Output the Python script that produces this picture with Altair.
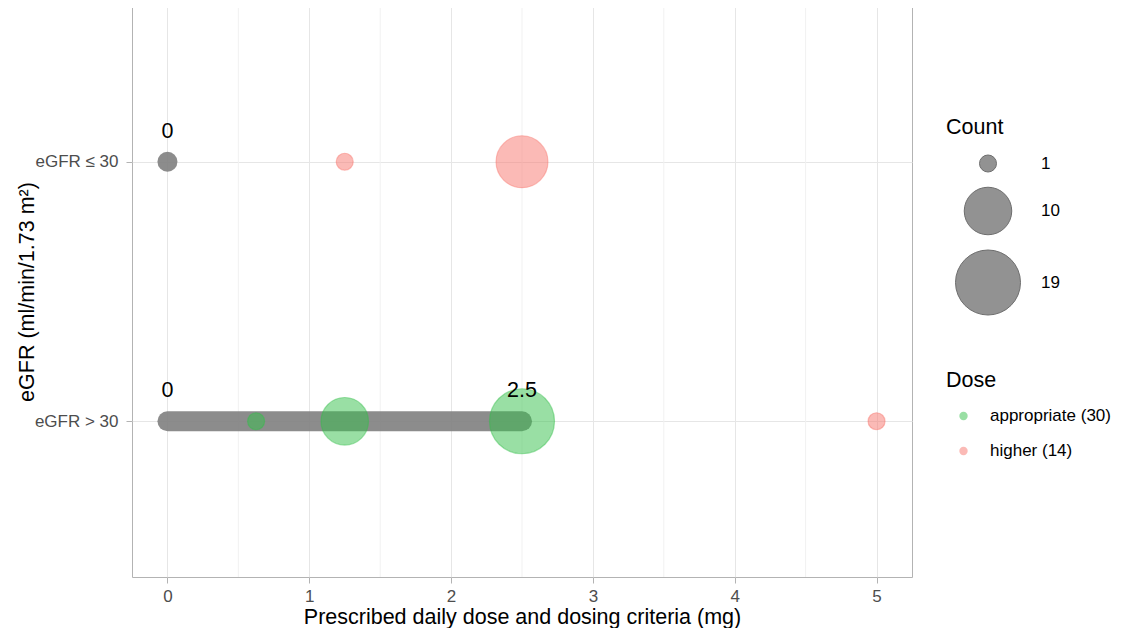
import altair as alt
import pandas as pd

# ---- data ----
row_labels = ["eGFR > 30", "eGFR ≤ 30"]          # y = 1, y = 2

pt_row = [2, 2, 1, 1, 1, 1]
pt_dose = [1.25, 2.5, 0.625, 1.25, 2.5, 5.0]
pt_group = ["higher (14)", "higher (14)", "appropriate (30)",
            "appropriate (30)", "appropriate (30)", "higher (14)"]
pt_count = [1, 12, 1, 10, 19, 1]

crit_row = [2, 1]
crit_min = [0.0, 0.0]
crit_max = [0.0, 2.5]

lab_row = [2, 1, 1]
lab_x = [0.0, 0.0, 2.5]
lab_text = ["0", "0", "2.5"]

x_ticks = [0, 1, 2, 3, 4, 5]
x_minor = [0.5, 1.5, 2.5, 3.5, 4.5]

group_domain = ["appropriate (30)", "higher (14)"]
group_colors = ["#34BF4A", "#F8766D"]

FONT = "Liberation Sans"

pts = pd.DataFrame({"y": pt_row, "x": pt_dose, "Dose": pt_group, "Count": pt_count})
crit = pd.DataFrame({"y": crit_row, "x": crit_min, "x2": crit_max})
labs = pd.DataFrame({"y": lab_row, "x": lab_x, "t": lab_text})
minor = pd.DataFrame({"x": x_minor})

x_enc = alt.X("x:Q",
              scale=alt.Scale(domain=[-0.25, 5.25], nice=False, zero=False),
              axis=alt.Axis(values=x_ticks, title="Prescribed daily dose and dosing criteria (mg)",
                            format="d"))
label_expr = f"datum.value == 1 ? '{row_labels[0]}' : '{row_labels[1]}'"
y_enc = alt.Y("y:Q",
              scale=alt.Scale(domain=[0.4, 2.6], nice=False, zero=False),
              axis=alt.Axis(values=[1, 2], labelExpr=label_expr,
                            title="eGFR (ml/min/1.73 m²)"))

minor_layer = alt.Chart(minor).mark_rule(color="#f1f1f1", strokeWidth=1).encode(x=x_enc)

crit_layer = alt.Chart(crit).mark_rule(
    strokeWidth=20, strokeCap="round", color="#808080", opacity=0.9
).encode(x=x_enc, x2="x2:Q", y=y_enc)

color_scale = alt.Scale(domain=group_domain, range=group_colors)
pt_layer = alt.Chart(pts).mark_circle(
    opacity=1, fillOpacity=0.5, strokeOpacity=0.45, strokeWidth=1.2
).encode(
    x=x_enc, y=y_enc,
    color=alt.Color("Dose:N", scale=color_scale,
                    legend=alt.Legend(title="Dose", orient="none", legendX=814, legendY=364,
                                      symbolSize=70, symbolOpacity=0.5, symbolStrokeWidth=0,
                                      symbolOffset=9, labelOffset=18, rowPadding=17,
                                      titlePadding=16)),
    stroke=alt.Stroke("Dose:N", scale=color_scale, legend=None),
    size=alt.Size("Count:Q",
                  scale=alt.Scale(domain=[1, 19], range=[289, 4225], zero=False, nice=False),
                  legend=alt.Legend(title="Count", orient="none", legendX=814, legendY=111,
                                    values=[1, 10, 19], symbolFillColor="#808080",
                                    symbolStrokeColor="#555555", symbolStrokeWidth=1,
                                    symbolOpacity=0.85, labelOffset=20, rowPadding=10,
                                    titlePadding=16, symbolOffset=9)),
)

txt_layer = alt.Chart(labs).mark_text(
    fontSize=21.5, dy=-30, color="black", font=FONT, baseline="middle"
).encode(x=x_enc, y=y_enc, text="t:N")

chart = alt.layer(minor_layer, crit_layer, pt_layer, txt_layer).properties(
    width=780, height=571,
    padding={"left": 8, "top": -3, "right": 0, "bottom": 0},
).configure_view(
    stroke="#b3b3b3", strokeWidth=1
).configure_axis(
    gridColor="#e6e6e6", gridWidth=1, domain=False,
    tickColor="#b3b3b3", tickSize=6,
    labelColor="#4d4d4d", labelFont=FONT, labelFontSize=17,
    titleFont=FONT, titleFontSize=21.5, titleFontWeight="normal", titleColor="black",
).configure_axisY(titlePadding=-4, labelPadding=8).configure_axisX(
    titlePadding=2, labelPadding=5
).configure_legend(
    titleFont=FONT, titleFontSize=21.5, titleFontWeight="normal", titleColor="black",
    labelFont=FONT, labelFontSize=17, labelColor="black",
)

chart.save("out.html", embed_options={"renderer": "svg", "actions": False})
